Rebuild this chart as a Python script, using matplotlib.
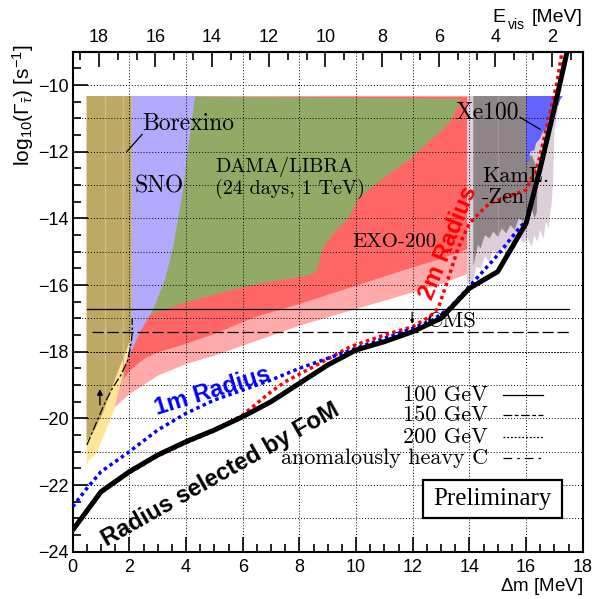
import matplotlib.pyplot as plt
from matplotlib.patches import Polygon, Rectangle
from matplotlib.ticker import MultipleLocator, FixedLocator

plt.rcParams['font.family'] = ['Liberation Sans', 'DejaVu Sans']
plt.rcParams['mathtext.fontset'] = 'custom'
plt.rcParams['mathtext.rm'] = 'Liberation Sans'
plt.rcParams['mathtext.it'] = 'Liberation Serif:italic'

SERIF = ['cmr10', 'DejaVu Serif']
EVIS_OFFSET = 18.92   # E_vis = offset - dm
TOP = -10.33          # upper edge of the experimental exclusion regions

# ---- exclusion regions (dm [MeV], log10 rate) ----
pink_x = [1.2, 1.4, 2.0, 3.0, 4.0, 5.0, 6.0, 7.0, 8.0, 9.0, 10.0, 11.0, 12.0, 13.0, 13.92]
pink_low = [-19.95, -19.7, -19.25, -18.7, -18.35, -18.1, -17.8, -17.5, -17.2, -16.95, -16.7,
            -16.45, -16.2, -15.95, -15.65]

red_x = [1.75, 2.0, 2.5, 3.0, 3.8, 5.0, 6.4, 8.0, 10.0, 12.0, 13.0, 13.92]
red_low = [-18.85, -18.55, -18.2, -18.0, -17.8, -17.45, -16.95, -16.55, -16.0, -15.45, -15.2, -14.9]

dama_x = [2.6, 2.8, 4.0, 5.5, 6.6, 7.4, 8.3, 8.6, 8.8, 9.2, 9.7, 10.1, 11.0, 11.9, 12.8, 13.3, 13.7]
dama_low = [-16.95, -16.85, -16.5, -16.15, -15.93, -15.83, -15.7, -15.55, -14.9, -14.4, -14.0,
            -13.35, -12.75, -12.2, -11.5, -11.1, -10.4]

sno_x = [1.8, 4.32, 4.08, 3.9, 3.55, 3.26, 2.84, 2.38, 1.92, 1.8]
sno_y = [TOP, TOP, -11.83, -13.13, -14.83, -15.83, -16.73, -17.4, -18.3, -18.3]

yellow_x = [0.49, 2.08, 2.08, 2.03, 1.73, 1.43, 1.14, 0.85, 0.54, 0.49]
yellow_y = [TOP, TOP, -17.5, -17.83, -18.83, -19.83, -20.43, -21.03, -21.3, -21.45]

bx_x = [0.49, 2.08, 2.08, 1.95, 1.49, 1.07, 0.73, 0.55, 0.49]
bx_y = [TOP, TOP, -17.4, -17.83, -18.83, -19.83, -20.43, -20.6, -20.7]
bx_stripes = [1.14, 1.78]

kam_light_x = [13.92, 17.2, 17.1, 17.0, 16.98, 16.95, 16.9, 16.85, 16.8, 16.7, 16.62, 16.5, 16.4,
               16.3, 16.2, 16.05, 15.9, 15.75, 15.6, 15.45, 15.3, 15.15, 15.0, 14.85, 14.7, 14.55,
               14.4, 14.25, 14.14, 14.0, 13.92]
kam_light_y = [TOP, TOP, -10.9, -11.4, -12.2, -13.0, -13.6, -13.9, -14.3, -14.1, -14.6, -14.35,
               -14.7, -14.5, -14.85, -14.6, -14.75, -14.5, -14.95, -14.7, -15.05, -14.85, -15.1,
               -14.95, -15.3, -15.15, -15.5, -15.45, -15.85, -15.95, -15.95]

kam_x = [14.14, 16.0, 16.0, 16.2, 16.35, 16.4, 16.38, 16.3, 16.2, 16.1, 16.0, 15.9, 15.75, 15.6,
         15.45, 15.3, 15.15, 15.0, 14.85, 14.7, 14.55, 14.4, 14.3, 14.14]
kam_y = [TOP, TOP, -12.2, -12.1, -12.4, -13.2, -13.8, -14.0, -13.7, -13.95, -13.8, -14.1, -14.0,
         -14.35, -14.2, -14.45, -14.3, -14.55, -14.4, -14.6, -14.5, -14.9, -14.8, -15.45]
kam_stripes = [15.0]

xe_x = [16.0, 17.3, 17.2, 17.15, 17.0, 16.95, 16.8, 16.75, 16.6, 16.5, 16.35, 16.3, 16.15, 16.1, 16.0]
xe_y = [TOP, TOP, -10.45, -10.6, -10.65, -10.9, -11.0, -11.3, -11.4, -11.6, -11.75, -11.95, -12.0,
        -12.3, -12.35]

# ---- sensitivity curves ----
fom_x = [0, 1, 2, 3, 4, 5, 6, 7, 8, 9, 10, 11, 12, 13, 14, 15, 16, 16.5, 17, 17.45]
fom_y = [-23.35, -22.2, -21.6, -21.1, -20.7, -20.35, -19.95, -19.5, -18.95, -18.4, -17.95, -17.7,
         -17.4, -17.0, -16.1, -15.6, -14.15, -12.5, -10.7, -9.0]

r1m_x = [0, 0.5, 1, 2, 3, 4, 5, 6, 7, 8, 9, 10, 11, 12, 12.7, 13.3, 14.1, 15.0, 15.8, 16.05,
         16.5, 17, 17.45]
r1m_y = [-22.65, -22.1, -21.6, -21.0, -20.35, -19.85, -19.45, -19.15, -18.85, -18.5, -18.2, -17.9,
         -17.6, -17.3, -17.05, -16.7, -15.95, -15.1, -14.25, -14.05, -12.5, -10.7, -9.0]

# 2m curve runs underneath the FoM curve below ~6 MeV
r2m_x = [0, 1, 2, 3, 4, 5, 6, 7, 7.5, 8.5, 9.8, 11.0, 12.0, 12.6, 12.9, 13.2, 13.6, 14.0, 14.7,
         15.5, 16.0, 16.4, 16.75, 17.1, 17.27]
r2m_y = [-23.38, -22.23, -21.63, -21.13, -20.73, -20.37, -19.9, -19.2, -18.9, -18.45, -17.85,
         -17.5, -17.25, -16.95, -16.7, -15.95, -14.9, -14.15, -13.55, -13.3, -13.15, -12.45,
         -11.2, -9.9, -9.0]

# CMS limits (horizontal) and anomalously heavy C curve
cms_100 = -16.73
cms_150 = -17.42
cms_200 = -18.0
heavyc_x = [0.5, 0.8, 1.1, 1.4, 1.7, 1.95, 2.05, 2.1, 2.1]
heavyc_y = [-20.8, -20.2, -19.6, -19.1, -18.7, -18.25, -17.8, -17.45, -17.0]

evis_major = [2, 4, 6, 8, 10, 12, 14, 16, 18]
evis_minor = [n * 2 / 3 for n in range(1, 29) if n % 3]

# ---- figure ----
fig = plt.figure(figsize=(5.93, 5.99), dpi=100)
ax = fig.add_axes([0.1226, 0.0790, 0.8600, 0.8347])
ax.set_xlim(0, 18)
ax.set_ylim(-24, -9)

ax.fill_between(pink_x, pink_low, TOP, color='#FFAAAA', lw=0, zorder=1)
ax.fill_between(red_x, red_low, TOP, color='#FF6666', lw=0, zorder=1.1)
ax.fill_between(dama_x + [4.3], dama_low + [TOP], TOP, color='#91AA66', lw=0, zorder=1.2)
ax.add_patch(Polygon(list(zip(sno_x, sno_y)), closed=True, color='#B3AAFF', lw=0, zorder=1.3))
ax.add_patch(Polygon(list(zip(yellow_x, yellow_y)), closed=True, color='#FFE596', lw=0, zorder=1.4))
ax.add_patch(Polygon(list(zip(bx_x, bx_y)), closed=True, color='#BEA866', lw=0, zorder=1.5))
for sx in bx_stripes:
    ax.plot([sx, sx], [TOP, -19.3], color='#D2BE80', lw=1, zorder=1.55)
ax.add_patch(Polygon(list(zip(kam_light_x, kam_light_y)), closed=True, color='#DDCFD8', lw=0, zorder=1.3))
ax.add_patch(Polygon(list(zip(kam_x, kam_y)), closed=True, color='#8F8487', lw=0, zorder=1.4))
for sx in kam_stripes:
    ax.plot([sx, sx], [TOP, -14.5], color='#A3999B', lw=1, zorder=1.45)
ax.add_patch(Polygon(list(zip(xe_x, xe_y)), closed=True, color='#6464FF', lw=0, zorder=1.5))

# grid
for yv in range(-23, -9):
    ax.axhline(yv, color='k', ls=(0, (1, 2)), lw=0.7, zorder=2.5)
ax.xaxis.set_major_locator(MultipleLocator(2))
ax.xaxis.grid(True, color='k', ls=(0, (1, 2)), lw=0.7)
ax.set_axisbelow(False)

# CMS lines
ax.plot([0.5, 17.5], [cms_100, cms_100], color='k', lw=0.9, zorder=3)
ax.plot([0.67, 17.5], [cms_150, cms_150], color='k', lw=0.9, ls=(0, (9, 3)), zorder=3)
ax.plot([0.5, 17.5], [cms_200, cms_200], color='k', lw=0.7, ls=(0, (1.5, 1.5)), zorder=3)
ax.plot(heavyc_x, heavyc_y, color='k', lw=0.9, ls=(0, (7, 2, 2, 2)), zorder=3)
ax.annotate('', xy=(0.96, -19.04), xytext=(0.96, -19.68),
            arrowprops=dict(arrowstyle='-|>', color='k', lw=1, mutation_scale=8), zorder=3)
ax.annotate('', xy=(11.98, -17.25), xytext=(11.98, cms_100),
            arrowprops=dict(arrowstyle='-|>', color='k', lw=0.9, mutation_scale=5), zorder=3)

# sensitivity curves
ax.plot(r2m_x, r2m_y, color='red', lw=2.5, ls=(0, (1, 1)), zorder=4)
ax.plot(r1m_x, r1m_y, color='blue', lw=2.5, ls=(0, (1, 1)), zorder=4.1)
ax.plot(fom_x, fom_y, color='black', lw=3.6, zorder=5, solid_capstyle='butt')

# region labels
ax.text(2.45, -11.18, 'Borexino', family=SERIF, fontsize=17, va='center', zorder=6)
ax.plot([2.45, 1.92], [-11.48, -11.99], color='k', lw=0.9, zorder=6)
ax.text(3.05, -13.04, 'SNO', family=SERIF, fontsize=17, ha='center', va='center', zorder=6)
ax.text(5.03, -12.47, 'DAMA/LIBRA', family=SERIF, fontsize=14.5, va='center', zorder=6)
ax.text(5.03, -13.12, '(24 days, 1 TeV)', family=SERIF, fontsize=14.5, va='center', zorder=6)
ax.text(9.86, -14.72, 'EXO-200', family=SERIF, fontsize=15, va='center', zorder=6)
ax.text(13.5, -10.82, 'Xe100', family=SERIF, fontsize=17, va='center', zorder=6)
ax.plot([15.79, 16.5], [-10.97, -11.33], color='k', lw=0.9, zorder=6)
ax.text(14.45, -12.74, 'KamL.', family=SERIF, fontsize=16, va='center', zorder=4.5)
ax.text(14.45, -13.38, '-Zen', family=SERIF, fontsize=16, va='center', zorder=4.5)
ax.text(12.51, -17.09, 'CMS', family=SERIF, fontsize=16.5, va='center', zorder=3.5)

# curve labels
ax.text(4.92, -19.2, '1m Radius', color='blue', fontsize=17, fontweight='bold',
        rotation=17, ha='center', va='center', zorder=6)
ax.text(5.2, -21.7, 'Radius selected by FoM', color='black', fontsize=17, fontweight='bold',
        rotation=29.5, ha='center', va='center', zorder=6)
ax.text(13.25, -14.75, '2m Radius', color='red', fontsize=17, fontweight='bold',
        rotation=68, ha='center', va='center', zorder=6)

# legend for CMS mass lines
leg_labels = ['100 GeV', '150 GeV', '200 GeV', 'anomalously heavy C']
leg_styles = ['-', (0, (7, 2, 3, 2)), (0, (1.5, 1.5)), (0, (7, 4, 2, 4))]
leg_y = [-19.31, -19.91, -20.57, -21.2]
for lab, st, yy in zip(leg_labels, leg_styles, leg_y):
    ax.text(14.66, yy, lab, family=SERIF, fontsize=16, ha='right', va='center', zorder=6)
    ax.plot([15.19, 16.6], [yy, yy], color='k', lw=0.9, ls=st, zorder=6)

ax.add_patch(Rectangle((12.37, -22.99), 4.9, 1.14, fill=True, facecolor='white',
                       edgecolor='black', lw=1.6, zorder=6))
ax.text(14.82, -22.42, 'Preliminary', family=['Liberation Serif'], fontsize=18,
        ha='center', va='center', zorder=7)

# axes styling
ax.xaxis.set_minor_locator(MultipleLocator(0.5))
ax.yaxis.set_major_locator(MultipleLocator(2))
ax.yaxis.set_minor_locator(MultipleLocator(0.5))
ax.tick_params(which='both', direction='in', width=1.2)
ax.tick_params(which='major', length=11, labelsize=13)
ax.tick_params(which='minor', length=5.5)
ax.tick_params(axis='y', pad=3)
ax.tick_params(axis='x', pad=5)
for sp in ax.spines.values():
    sp.set_linewidth(1.5)

sec = ax.secondary_xaxis('top', functions=(lambda x: EVIS_OFFSET - x, lambda e: EVIS_OFFSET - e))
sec.xaxis.set_major_locator(FixedLocator(evis_major))
sec.xaxis.set_minor_locator(FixedLocator(evis_minor))
sec.tick_params(which='both', direction='in', width=1.2)
sec.tick_params(which='major', length=11, labelsize=13, pad=4)
sec.tick_params(which='minor', length=6)
sec.spines['top'].set_linewidth(1.5)

fig.text(0.983, 0.004, r'$\Delta$m [MeV]', fontsize=13.5, ha='right', va='bottom')
fig.text(0.830, 0.971, 'E', fontsize=14, ha='left', va='center')
fig.text(0.857, 0.958, 'vis', fontsize=10, ha='left', va='center')
fig.text(0.983, 0.971, '[MeV]', fontsize=14, ha='right', va='center')
fig.text(0.040, 0.825, r'log$_{10}$($\Gamma_{\bar{\tau}}$) [s$^{-1}$]', fontsize=15,
         rotation=90, ha='center', va='center')

fig.savefig('out.png', dpi=100)
